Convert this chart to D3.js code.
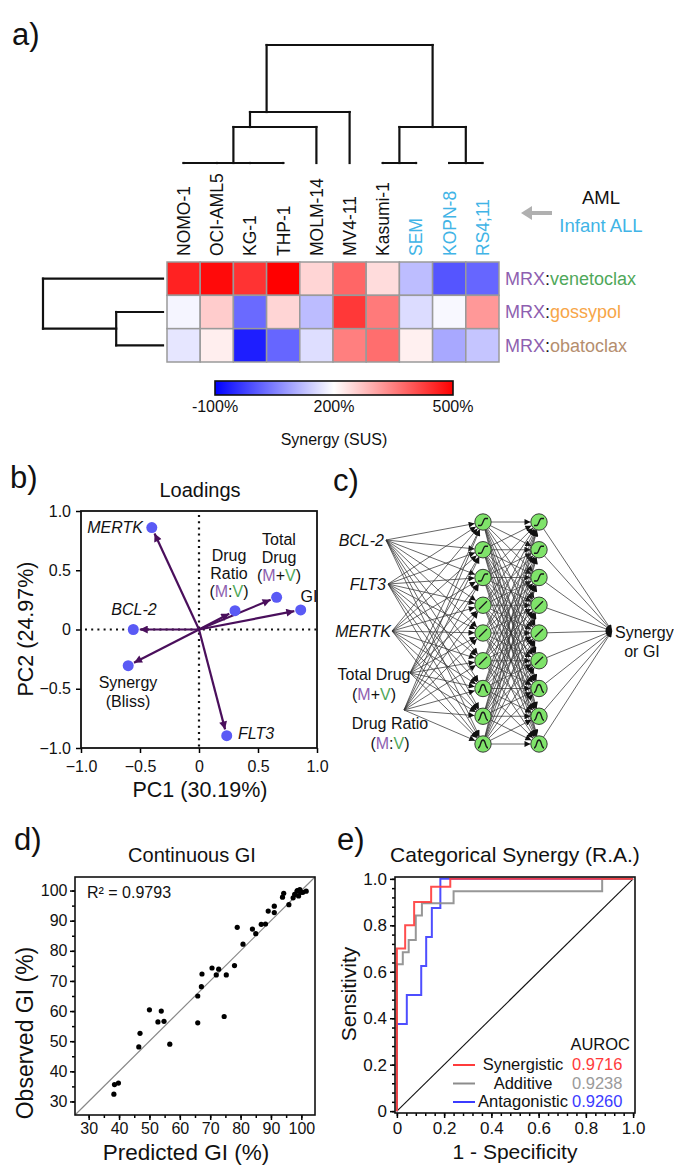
<!DOCTYPE html>
<html>
<head>
<meta charset="utf-8">
<script src="https://cdn.jsdelivr.net/npm/d3@7"></script>
<style>
  body { margin: 0; background: #fff; }
  svg { display: block; }
</style>
</head>
<body>
<script>
"use strict";

// ---------- data: a) heatmap ----------
const cellLines = ["NOMO-1", "OCI-AML5", "KG-1", "THP-1", "MOLM-14", "MV4-11", "Kasumi-1", "SEM", "KOPN-8", "RS4;11"];
const lineType = ["AML", "AML", "AML", "AML", "AML", "AML", "AML", "ALL", "ALL", "ALL"];
const partners = ["venetoclax", "gossypol", "obatoclax"];
const susVenetoclax = [460, 488, 440, 500, 249, 380, 241, 122, 0, 20];
const susGossypol = [188, 260, 25, 249, 121, 434, 356, 159, 192, 321];
const susObatoclax = [171, 220, -65, 20, 161, 351, 371, 218, 98, 132];
const susTicks = [-100, 200, 500];

// dendrograms (h = merge height, 0..1)
const colTree = { h: 1, children: [
  { h: 0.432, children: [
    { h: 0.305, children: [
      { h: 0, children: [{ name: "NOMO-1" }, { name: "OCI-AML5" }, { name: "KG-1" }, { name: "THP-1" }] },
      { name: "MOLM-14" }] },
    { name: "MV4-11" }] },
  { h: 0.305, children: [
    { h: 0, children: [{ name: "Kasumi-1" }, { name: "SEM" }] },
    { h: 0, children: [{ name: "KOPN-8" }, { name: "RS4;11" }] }] }
] };
const rowTree = { h: 1, children: [
  { name: "venetoclax" },
  { h: 0.39, children: [{ name: "gossypol" }, { name: "obatoclax" }] }
] };

// ---------- data: b) loadings ----------
const loadNames = ["MERTK", "BCL-2", "Synergy (Bliss)", "FLT3", "Drug Ratio (M:V)", "Total Drug (M+V)", "GI"];
const pc1 = [-0.40, -0.557, -0.60, 0.235, 0.305, 0.658, 0.862];
const pc2 = [0.86, 0.0, -0.305, -0.896, 0.159, 0.272, 0.165];
const pcTicks = [-1, -0.5, 0, 0.5, 1];

// ---------- data: c) network ----------
const netInputs = ["BCL-2", "FLT3", "MERTK", "Total Drug (M+V)", "Drug Ratio (M:V)"];
const activations = ["sig", "sig", "sig", "lin", "lin", "lin", "gauss", "gauss", "gauss"];

// ---------- data: d) continuous GI ----------
const predGI = [38.3, 38.5, 39.8, 46.5, 46.9, 50.0, 52.8, 53.9, 54.8, 56.7, 65.9, 65.9, 67.1, 67.3, 70.6, 72.0, 72.8, 75.3, 74.6, 78.0,
  78.9, 80.8, 83.9, 85.0, 86.8, 88.2, 89.1, 91.1, 91.1, 93.8, 94.2, 95.9, 97.3, 97.8, 98.6, 99.1, 99.8, 100.5, 101.6, 98.7, 99.5];
const obsGI = [32.4, 35.6, 36.1, 48.1, 52.6, 60.4, 56.4, 60.0, 56.6, 49.0, 56.1, 65.0, 68.1, 72.3, 74.3, 72.0, 73.9, 72.0, 58.2, 75.1,
  87.8, 82.2, 87.2, 85.7, 88.8, 88.9, 93.2, 92.7, 94.8, 97.8, 99.1, 95.3, 97.6, 98.7, 99.8, 98.2, 99.4, 99.4, 99.8, 100.0, 100.3];
const giTicks = [30, 40, 50, 60, 70, 80, 90, 100];

// ---------- data: e) ROC ----------
const rocClasses = ["Synergistic", "Additive", "Antagonistic"];
const auroc = [0.9716, 0.9238, 0.9260];
const fprSyn = [0, 0, 0.035, 0.073, 0.145, 0.226, 1];
const tprSyn = [0, 0.70, 0.80, 0.90, 0.966, 1, 1];
const fprAdd = [0, 0, 0.025, 0.05, 0.08, 0.106, 0.24, 0.869, 1];
const tprAdd = [0, 0.632, 0.684, 0.737, 0.842, 0.895, 0.947, 1, 1];
const fprAnt = [0, 0, 0.042, 0.103, 0.124, 0.148, 0.184, 1];
const tprAnt = [0, 0.375, 0.5, 0.625, 0.75, 0.875, 1, 1];
const rocTicks = [0, 0.2, 0.4, 0.6, 0.8, 1];

// ---------- styles ----------
const FONT = '"Liberation Sans", Arial, Helvetica, sans-serif';
const purple = "#8e5fb0", green = "#4fa85a", orange = "#f7a548", tan = "#b58e6e";
const allBlue = "#41b4e6";

const svg = d3.select("body").append("svg")
  .attr("width", 674).attr("height", 1166)
  .attr("font-family", FONT);

const defs = svg.append("defs");

function styleAxis(g, fs) {
  g.attr("font-family", FONT);
  g.select(".domain").remove();
  g.selectAll(".tick line").attr("stroke", "#000").attr("stroke-width", 1.5);
  g.selectAll(".tick text").attr("font-size", fs).attr("fill", "#111");
}

function multiText(g, x, y, lines, size, anchor, lh) {
  const t = g.append("text").attr("x", x).attr("y", y)
    .attr("text-anchor", anchor).attr("font-size", size).attr("fill", "#111");
  lines.forEach((ln, i) => {
    const ts = t.append("tspan").attr("x", x).attr("dy", i === 0 ? 0 : lh);
    ln.forEach(part => ts.append("tspan").text(part[0]).attr("fill", part[1] || "#111"));
  });
  return t;
}

// panel letters
[["a)", 12, 45], ["b)", 10, 488], ["c)", 333, 491], ["d)", 14, 850], ["e)", 337, 850]].forEach(p => {
  svg.append("text").attr("x", p[1]).attr("y", p[2]).attr("font-size", 31).attr("fill", "#111").text(p[0]);
});

// =====================================================================
// a) heatmap
// =====================================================================
const gA = svg.append("g");
const xCell = d3.scaleBand().domain(cellLines).range([167, 499]);
const yRow = d3.scaleBand().domain(partners).range([262, 362]);
const susColor = d3.scaleLinear().domain([-100, 200, 500]).range(["#0000ff", "#ffffff", "#ff0000"]);
const susRows = [susVenetoclax, susGossypol, susObatoclax];
const cells = partners.flatMap((p, r) => susRows[r].map((v, i) => ({ p, line: cellLines[i], v })));
const bw = xCell.bandwidth();

gA.selectAll("rect.cell").data(cells).join("rect")
  .attr("class", "cell")
  .attr("x", d => xCell(d.line)).attr("y", d => yRow(d.p))
  .attr("width", bw).attr("height", yRow.bandwidth())
  .attr("fill", d => susColor(d.v))
  .attr("stroke", "#9a9a9a").attr("stroke-width", 1.5);

// column labels
gA.selectAll("text.col").data(cellLines).join("text")
  .attr("class", "col")
  .attr("transform", d => `translate(${xCell(d) + bw / 2},256) rotate(-90)`)
  .attr("dy", "0.36em")
  .attr("font-size", 17.5)
  .attr("fill", (d, i) => lineType[i] === "AML" ? "#111" : allBlue)
  .text(d => d);

// column dendrogram
const yDen = d3.scaleLinear().domain([0, 1]).range([163, 45]);
const colRoot = d3.hierarchy(colTree);
colRoot.eachAfter(n => {
  n.px = d3.mean(n.leaves(), l => xCell(l.data.name) + bw / 2);
  n.ph = n.data.h || 0;
});
const denLines = [];
colRoot.each(n => {
  if (!n.children) return;
  const ext = d3.extent(n.children, c => c.px);
  denLines.push([ext[0], yDen(n.ph), ext[1], yDen(n.ph)]);
  n.children.forEach(c => denLines.push([c.px, yDen(n.ph), c.px, yDen(c.ph)]));
});

// row dendrogram (horizontal)
const xRDen = d3.scaleLinear().domain([0, 1]).range([163, 43]);
const rowRoot = d3.hierarchy(rowTree);
rowRoot.eachAfter(n => {
  n.py = d3.mean(n.leaves(), l => yRow(l.data.name) + yRow.bandwidth() / 2);
  n.ph = n.data.h || 0;
});
rowRoot.each(n => {
  if (!n.children) return;
  const ext = d3.extent(n.children, c => c.py);
  denLines.push([xRDen(n.ph), ext[0], xRDen(n.ph), ext[1]]);
  n.children.forEach(c => denLines.push([xRDen(n.ph), c.py, xRDen(c.ph), c.py]));
});

gA.selectAll("line.den").data(denLines).join("line")
  .attr("x1", d => d[0]).attr("y1", d => d[1]).attr("x2", d => d[2]).attr("y2", d => d[3])
  .attr("stroke", "#111").attr("stroke-width", 2.2).attr("stroke-linecap", "square");

// row labels
const partnerColor = { venetoclax: green, gossypol: orange, obatoclax: tan };
partners.forEach(p => {
  const t = gA.append("text").attr("x", 505).attr("y", yRow(p) + yRow.bandwidth() / 2)
    .attr("dy", "0.36em").attr("font-size", 18);
  t.append("tspan").attr("fill", purple).text("MRX");
  t.append("tspan").attr("fill", "#111").text(":");
  t.append("tspan").attr("fill", partnerColor[p]).text(p);
});

// AML / infant ALL key
gA.append("line").attr("x1", 552).attr("y1", 213).attr("x2", 530).attr("y2", 213)
  .attr("stroke", "#b0b0b0").attr("stroke-width", 4);
gA.append("path").attr("d", "M521,213 L532,206 L532,220 Z").attr("fill", "#b0b0b0");
gA.append("text").attr("x", 601).attr("y", 204).attr("text-anchor", "middle")
  .attr("font-size", 18.5).attr("fill", "#111").text("AML");
gA.append("text").attr("x", 601).attr("y", 232).attr("text-anchor", "middle")
  .attr("font-size", 18.5).attr("fill", allBlue).text("Infant ALL");

// colour bar
const xBar = d3.scaleLinear().domain([-100, 500]).range([215, 453]);
const grad = defs.append("linearGradient").attr("id", "susGrad");
grad.selectAll("stop").data(susTicks).join("stop")
  .attr("offset", d => (xBar(d) - 215) / (453 - 215))
  .attr("stop-color", d => susColor(d));
gA.append("rect").attr("x", 215).attr("y", 381).attr("width", 238).attr("height", 14)
  .attr("fill", "url(#susGrad)").attr("stroke", "#111").attr("stroke-width", 1.6);
gA.selectAll("text.sus").data(susTicks).join("text")
  .attr("class", "sus")
  .attr("x", d => xBar(d)).attr("y", 412).attr("text-anchor", "middle")
  .attr("font-size", 16).attr("fill", "#111").text(d => d + "%");
gA.append("text").attr("x", 334).attr("y", 445).attr("text-anchor", "middle")
  .attr("font-size", 16).attr("fill", "#111").text("Synergy (SUS)");

// =====================================================================
// b) loadings
// =====================================================================
const gB = svg.append("g");
const xB = d3.scaleLinear().domain([-1, 1]).range([81, 317]);
const yB = d3.scaleLinear().domain([-1, 1]).range([748, 511]);
const fmtPC = d => d === 0 ? "0" : d3.format(".1f")(d);

gB.append("g").attr("transform", "translate(0,748)")
  .call(d3.axisBottom(xB).tickValues(pcTicks).tickSize(5).tickPadding(8).tickFormat(fmtPC))
  .call(styleAxis, 16);
gB.append("g").attr("transform", "translate(81,0)")
  .call(d3.axisLeft(yB).tickValues(pcTicks).tickSize(5).tickPadding(5).tickFormat(fmtPC))
  .call(styleAxis, 16);

gB.append("line").attr("x1", xB(0)).attr("x2", xB(0)).attr("y1", yB(1) + 4).attr("y2", yB(-1))
  .attr("stroke", "#111").attr("stroke-width", 2.2).attr("stroke-dasharray", "2 4.2");
gB.append("line").attr("x1", xB(-1) + 4).attr("x2", xB(1)).attr("y1", yB(0)).attr("y2", yB(0))
  .attr("stroke", "#111").attr("stroke-width", 2.2).attr("stroke-dasharray", "2 4.2");

gB.append("rect").attr("x", 81).attr("y", 511).attr("width", 236).attr("height", 237)
  .attr("fill", "none").attr("stroke", "#111").attr("stroke-width", 1.8);

const arrowPurple = "#4a0f5c";
defs.append("marker").attr("id", "purpleHead")
  .attr("viewBox", "0 0 10 10").attr("refX", 10).attr("refY", 5)
  .attr("markerWidth", 9).attr("markerHeight", 8).attr("markerUnits", "userSpaceOnUse")
  .attr("orient", "auto")
  .append("path").attr("d", "M0,0 L10,5 L0,10 z").attr("fill", arrowPurple);

const loadings = loadNames.map((n, i) => ({ n, x: pc1[i], y: pc2[i] }));
gB.selectAll("line.load").data(loadings).join("line")
  .attr("class", "load")
  .each(function (d) {
    const x0 = xB(0), y0 = yB(0), x1 = xB(d.x), y1 = yB(d.y);
    const L = Math.hypot(x1 - x0, y1 - y0), k = (L - 6.5) / L;
    d3.select(this).attr("x1", x0).attr("y1", y0)
      .attr("x2", x0 + (x1 - x0) * k).attr("y2", y0 + (y1 - y0) * k);
  })
  .attr("stroke", arrowPurple).attr("stroke-width", 2.2)
  .attr("marker-end", "url(#purpleHead)");

gB.selectAll("circle.load").data(loadings).join("circle")
  .attr("class", "load")
  .attr("cx", d => xB(d.x)).attr("cy", d => yB(d.y)).attr("r", 5.5)
  .attr("fill", "#5a5af5");

gB.append("text").attr("x", 200).attr("y", 497).attr("text-anchor", "middle")
  .attr("font-size", 20).attr("fill", "#111").text("Loadings");
gB.append("text").attr("x", 200).attr("y", 797).attr("text-anchor", "middle")
  .attr("font-size", 21.5).attr("fill", "#111").text("PC1 (30.19%)");
gB.append("text").attr("transform", "translate(25,629) rotate(-90)").attr("dy", "0.36em")
  .attr("text-anchor", "middle").attr("font-size", 21.5).attr("fill", "#111").text("PC2 (24.97%)");

// loading labels
multiText(gB, 143, 533, [[["MERTK"]]], 16, "end", 0).attr("font-style", "italic");
multiText(gB, 134, 615, [[["BCL-2"]]], 16, "middle", 0).attr("font-style", "italic");
multiText(gB, 238, 739, [[["FLT3"]]], 16, "start", 0).attr("font-style", "italic");
multiText(gB, 128, 688, [[["Synergy"]], [["(Bliss)"]]], 16, "middle", 19);
multiText(gB, 229, 561, [[["Drug"]], [["Ratio"]], [["("], ["M", purple], [":"], ["V", green], [")"]]], 16, "middle", 18);
multiText(gB, 279, 545, [[["Total"]], [["Drug"]], [["("], ["M", purple], ["+"], ["V", green], [")"]]], 16, "middle", 18);
multiText(gB, 309, 602, [[["GI"]]], 16, "middle", 0);

// =====================================================================
// c) neural network
// =====================================================================
const gC = svg.append("g");
const nodeY = d3.scalePoint().domain(activations.map((a, i) => i)).range([522, 744]);
const layerX = [483, 539];
const nodeR = 8.2;
const outPt = [612, 631];
const inputPts = [[386, 540], [388, 584], [392, 631], [410, 673], [404, 710]];

defs.append("marker").attr("id", "netHead")
  .attr("viewBox", "0 0 10 10").attr("refX", 10).attr("refY", 5)
  .attr("markerWidth", 8).attr("markerHeight", 6).attr("markerUnits", "userSpaceOnUse")
  .attr("orient", "auto")
  .append("path").attr("d", "M0,0 L10,5 L0,10 z").attr("fill", "#111");

const netEdges = [];
function edgeTo(x0, y0, cx, cy) {
  const dx = cx - x0, dy = cy - y0, L = Math.hypot(dx, dy), k = (L - nodeR - 0.3) / L;
  return [x0, y0, x0 + dx * k, y0 + dy * k];
}
inputPts.forEach(p => activations.forEach((a, j) => netEdges.push(edgeTo(p[0], p[1], layerX[0], nodeY(j)))));
activations.forEach((a, i) => activations.forEach((b, j) => {
  const dx = layerX[1] - layerX[0], dy = nodeY(j) - nodeY(i), L = Math.hypot(dx, dy);
  const sx = layerX[0] + dx / L * nodeR, sy = nodeY(i) + dy / L * nodeR;
  netEdges.push(edgeTo(sx, sy, layerX[1], nodeY(j)));
}));
activations.forEach((a, i) => {
  const dx = outPt[0] - layerX[1], dy = outPt[1] - nodeY(i), L = Math.hypot(dx, dy);
  netEdges.push([layerX[1] + dx / L * nodeR, nodeY(i) + dy / L * nodeR, outPt[0], outPt[1]]);
});

gC.selectAll("line.edge").data(netEdges).join("line")
  .attr("x1", d => d[0]).attr("y1", d => d[1]).attr("x2", d => d[2]).attr("y2", d => d[3])
  .attr("stroke", "#333").attr("stroke-width", 0.75)
  .attr("marker-end", "url(#netHead)");

const nodes = layerX.flatMap(x => activations.map((a, i) => ({ x, y: nodeY(i), a })));
gC.selectAll("circle.node").data(nodes).join("circle")
  .attr("cx", d => d.x).attr("cy", d => d.y).attr("r", nodeR)
  .attr("fill", "#7fe36a").attr("stroke", "#2a2a2a").attr("stroke-width", 0.9);

function iconPath(d) {
  const x = d.x, y = d.y;
  if (d.a === "sig") return `M${x - 5},${y + 3.5} L${x - 2.2},${y + 3.5} C${x - 0.5},${y + 3.5} ${x + 0.5},${y - 3.5} ${x + 2.2},${y - 3.5} L${x + 5},${y - 3.5}`;
  if (d.a === "lin") return `M${x - 4},${y + 4} L${x + 4},${y - 4}`;
  return `M${x - 5},${y + 4} C${x - 2},${y + 4} ${x - 3},${y - 4} ${x},${y - 4} C${x + 3},${y - 4} ${x + 2},${y + 4} ${x + 5},${y + 4}`;
}
gC.selectAll("path.icon").data(nodes).join("path")
  .attr("d", iconPath).attr("fill", "none").attr("stroke", "#1a1a1a").attr("stroke-width", 1.3);

multiText(gC, 384, 546, [[["BCL-2"]]], 16, "end", 0).attr("font-style", "italic");
multiText(gC, 386, 590, [[["FLT3"]]], 16, "end", 0).attr("font-style", "italic");
multiText(gC, 391, 637, [[["MERTK"]]], 16, "end", 0).attr("font-style", "italic");
multiText(gC, 374, 680, [[["Total Drug"]], [["("], ["M", purple], ["+"], ["V", green], [")"]]], 16, "middle", 20);
multiText(gC, 390, 729, [[["Drug Ratio"]], [["("], ["M", purple], [":"], ["V", green], [")"]]], 16, "middle", 20);
multiText(gC, 615, 638, [[["Synergy"]]], 16, "start", 0);
multiText(gC, 642, 657, [[["or GI"]]], 16, "middle", 0);

// =====================================================================
// d) continuous GI
// =====================================================================
const gD = svg.append("g");
const xD = d3.scaleLinear().domain([25.5, 104.5]).range([75, 315]);
const yD = d3.scaleLinear().domain([25.5, 104.5]).range([1115, 877]);
const minorGI = d3.range(30, 105, 5);

gD.append("g").attr("transform", "translate(0,1115)")
  .call(d3.axisBottom(xD).tickValues(minorGI).tickSize(3).tickFormat(""))
  .call(styleAxis, 16);
gD.append("g").attr("transform", "translate(75,0)")
  .call(d3.axisLeft(yD).tickValues(minorGI).tickSize(3).tickFormat(""))
  .call(styleAxis, 16);
gD.append("g").attr("transform", "translate(0,1115)")
  .call(d3.axisBottom(xD).tickValues(giTicks).tickSize(5).tickPadding(3))
  .call(styleAxis, 16);
gD.append("g").attr("transform", "translate(75,0)")
  .call(d3.axisLeft(yD).tickValues(giTicks).tickSize(5).tickPadding(2.5))
  .call(styleAxis, 16);

gD.append("line").attr("x1", xD(25.5)).attr("y1", yD(25.5)).attr("x2", xD(104.5)).attr("y2", yD(104.5))
  .attr("stroke", "#888").attr("stroke-width", 1.2);
gD.append("rect").attr("x", 75).attr("y", 877).attr("width", 240).attr("height", 238)
  .attr("fill", "none").attr("stroke", "#111").attr("stroke-width", 1.6);

gD.selectAll("circle.pt").data(predGI.map((p, i) => [p, obsGI[i]])).join("circle")
  .attr("cx", d => xD(d[0])).attr("cy", d => yD(d[1])).attr("r", 2.6).attr("fill", "#000");

gD.append("text").attr("x", 87).attr("y", 898).attr("font-size", 16).attr("fill", "#111").text("R² = 0.9793");
gD.append("text").attr("x", 192).attr("y", 862).attr("text-anchor", "middle")
  .attr("font-size", 20).attr("fill", "#111").text("Continuous GI");
gD.append("text").attr("x", 186).attr("y", 1160).attr("text-anchor", "middle")
  .attr("font-size", 22.5).attr("fill", "#111").text("Predicted GI (%)");
gD.append("text").attr("transform", "translate(25,1033) rotate(-90)").attr("dy", "0.36em")
  .attr("text-anchor", "middle").attr("font-size", 23).attr("fill", "#111").text("Observed GI (%)");

// =====================================================================
// e) ROC
// =====================================================================
const gE = svg.append("g");
const xE = d3.scaleLinear().domain([-0.008, 1.008]).range([395, 635]);
const yE = d3.scaleLinear().domain([-0.008, 1.008]).range([1113, 877]);
const minorRoc = d3.range(0, 1.001, 0.04);
const fmtRoc = d => d === 0 ? "0" : d3.format(".1f")(d);

gE.append("g").attr("transform", "translate(0,1113)")
  .call(d3.axisBottom(xE).tickValues(minorRoc).tickSize(3).tickFormat(""))
  .call(styleAxis, 17);
gE.append("g").attr("transform", "translate(395,0)")
  .call(d3.axisLeft(yE).tickValues(minorRoc).tickSize(3).tickFormat(""))
  .call(styleAxis, 17);
gE.append("g").attr("transform", "translate(0,1113)")
  .call(d3.axisBottom(xE).tickValues(rocTicks).tickSize(5).tickPadding(4).tickFormat(fmtRoc))
  .call(styleAxis, 17);
gE.append("g").attr("transform", "translate(395,0)")
  .call(d3.axisLeft(yE).tickValues(rocTicks).tickSize(5).tickPadding(3).tickFormat(fmtRoc))
  .call(styleAxis, 17);

gE.append("line").attr("x1", xE(0)).attr("y1", yE(0)).attr("x2", xE(1)).attr("y2", yE(1))
  .attr("stroke", "#111").attr("stroke-width", 1.1);

const rocColors = ["#ff3b3b", "#8c8c8c", "#3b3bff"];
const rocValColors = ["#ff3b3b", "#9a9a9a", "#3b3bff"];
const rocSeries = [[fprSyn, tprSyn], [fprAdd, tprAdd], [fprAnt, tprAnt]];
const rocLine = d3.line().x(d => xE(d[0])).y(d => yE(d[1])).curve(d3.curveStepAfter);
[2, 1, 0].forEach(k => {
  const pts = rocSeries[k][0].map((f, i) => [f, rocSeries[k][1][i]]);
  gE.append("path").attr("d", rocLine(pts)).attr("fill", "none")
    .attr("stroke", rocColors[k]).attr("stroke-width", 2).attr("stroke-opacity", 0.9);
});

gE.append("rect").attr("x", 395).attr("y", 877).attr("width", 240).attr("height", 236)
  .attr("fill", "none").attr("stroke", "#111").attr("stroke-width", 1.6);

gE.append("text").attr("x", 630).attr("y", 1050).attr("text-anchor", "end")
  .attr("font-size", 16.5).attr("fill", "#111").text("AUROC");
const legY = d3.scalePoint().domain(rocClasses).range([1065, 1102]);
rocClasses.forEach((c, i) => {
  gE.append("line").attr("x1", 453).attr("x2", 475).attr("y1", legY(c)).attr("y2", legY(c))
    .attr("stroke", rocColors[i]).attr("stroke-width", 2);
  gE.append("text").attr("x", 523).attr("y", legY(c) + 5).attr("text-anchor", "middle")
    .attr("font-size", 16.5).attr("fill", "#111").text(c);
  gE.append("text").attr("x", 572).attr("y", legY(c) + 5)
    .attr("font-size", 16.5).attr("fill", rocValColors[i]).text(d3.format(".4f")(auroc[i]));
});

gE.append("text").attr("x", 515).attr("y", 862).attr("text-anchor", "middle")
  .attr("font-size", 21).attr("fill", "#111").text("Categorical Synergy (R.A.)");
gE.append("text").attr("x", 515).attr("y", 1159).attr("text-anchor", "middle")
  .attr("font-size", 21).attr("fill", "#111").text("1 - Specificity");
gE.append("text").attr("transform", "translate(348,994) rotate(-90)").attr("dy", "0.36em")
  .attr("text-anchor", "middle").attr("font-size", 21).attr("fill", "#111").text("Sensitivity");
</script>
</body>
</html>
